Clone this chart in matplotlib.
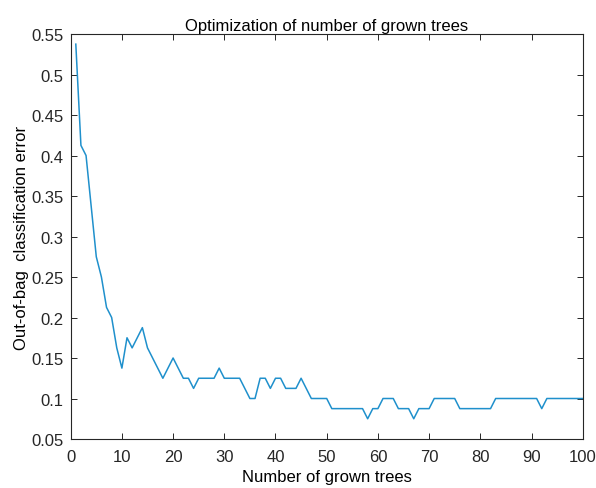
import matplotlib
matplotlib.use("Agg")
import matplotlib.pyplot as plt

plt.rcParams['font.family'] = ['Liberation Sans', 'DejaVu Sans']

# out-of-bag error per number of trees
n_trees = list(range(1, 101))
oob_error = [
    0.5375, 0.4125, 0.4, 0.3375, 0.275, 0.25, 0.2125, 0.2, 0.1625, 0.1375,
    0.175, 0.1625, 0.175, 0.1875, 0.1625, 0.15, 0.1375, 0.125, 0.1375, 0.15,
    0.1375, 0.125, 0.125, 0.1125, 0.125, 0.125, 0.125, 0.125, 0.1375, 0.125,
    0.125, 0.125, 0.125, 0.1125, 0.1, 0.1, 0.125, 0.125, 0.1125, 0.125,
    0.125, 0.1125, 0.1125, 0.1125, 0.125, 0.1125, 0.1, 0.1, 0.1, 0.1,
    0.0875, 0.0875, 0.0875, 0.0875, 0.0875, 0.0875, 0.0875, 0.075, 0.0875, 0.0875,
    0.1, 0.1, 0.1, 0.0875, 0.0875, 0.0875, 0.075, 0.0875, 0.0875, 0.0875,
    0.1, 0.1, 0.1, 0.1, 0.1, 0.0875, 0.0875, 0.0875, 0.0875, 0.0875,
    0.0875, 0.0875, 0.1, 0.1, 0.1, 0.1, 0.1, 0.1, 0.1, 0.1,
    0.1, 0.0875, 0.1, 0.1, 0.1, 0.1, 0.1, 0.1, 0.1, 0.1,
]
x_ticks = list(range(0, 101, 10))
y_ticks = [0.05, 0.1, 0.15, 0.2, 0.25, 0.3, 0.35, 0.4, 0.45, 0.5, 0.55]
y_labels = ["0.05", "0.1", "0.15", "0.2", "0.25", "0.3", "0.35", "0.4", "0.45", "0.5", "0.55"]

fig = plt.figure(figsize=(5.96, 4.89), dpi=100, facecolor='w')
ax = fig.add_axes([0.1186, 0.1002, 0.8591, 0.8282])

ax.plot(n_trees, oob_error, color='#1f90cc', linewidth=1.1)

ax.set_xlim(0, 100)
ax.set_ylim(0.05, 0.55)
ax.set_xticks(x_ticks)
ax.set_yticks(y_ticks)
ax.set_yticklabels(y_labels)
ax.tick_params(direction='in', top=True, right=True, length=4, width=0.7,
               labelsize=12, colors='#262626', pad=5)
ax.tick_params(axis='x', pad=7)
for s in ax.spines.values():
    s.set_linewidth(0.8)
    s.set_color('#262626')

ax.set_title("Optimization of number of grown trees", fontsize=12, pad=3)
ax.set_xlabel("Number of grown trees", fontsize=12, labelpad=4)
ax.set_ylabel("Out-of-bag  classification error", fontsize=12, labelpad=2)

fig.savefig("out.png", dpi=100)
